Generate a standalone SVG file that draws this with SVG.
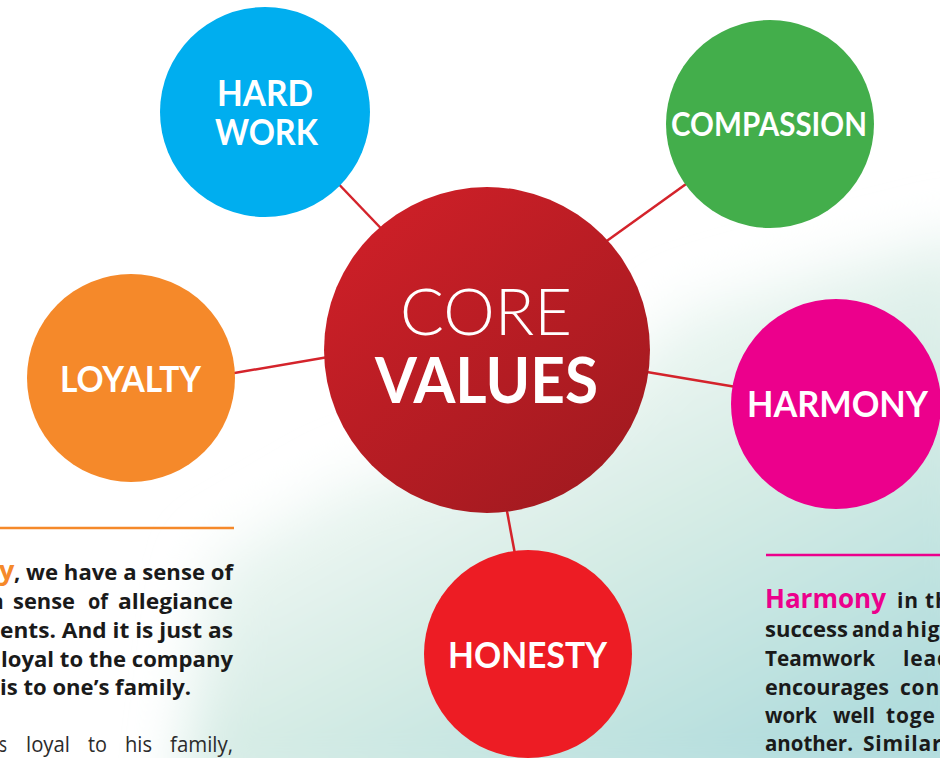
<svg xmlns="http://www.w3.org/2000/svg" width="940" height="758" viewBox="0 0 940 758">
<style>
.lbl{font-family:"Lato","Open Sans","Liberation Sans",sans-serif;font-weight:700;fill:#fff;text-anchor:middle}
.body{font-family:"Open Sans","Liberation Sans",sans-serif;font-weight:700;font-size:21px;fill:#1a1a1a}
.reg{font-family:"Open Sans","Liberation Sans",sans-serif;font-weight:400;font-size:21px;fill:#2b2b2b}
.cut{letter-spacing:0.8px}
.conn{stroke:#D4232B;stroke-width:2.5;fill:none}
</style>
<defs>
<linearGradient id="wash" gradientUnits="userSpaceOnUse" x1="560" y1="260" x2="820" y2="758">
<stop offset="0" stop-color="#fbfdfb"/>
<stop offset="0.5" stop-color="#d6ece5"/>
<stop offset="1" stop-color="#b0dcdd"/>
</linearGradient>
<linearGradient id="core" x1="0.2" y1="0.1" x2="0.85" y2="0.9">
<stop offset="0" stop-color="#CB1F27"/>
<stop offset="1" stop-color="#A31A20"/>
</linearGradient>
<filter id="soft" x="-20%" y="-20%" width="140%" height="140%"><feGaussianBlur stdDeviation="28"/></filter>
</defs>
<rect width="940" height="758" fill="#ffffff"/>
<path d="M 980 230 L 820 270 L 680 310 L 570 420 L 350 480 L 210 560 L 180 800 L 1000 800 Z" fill="url(#wash)" filter="url(#soft)"/>

<g id="connectors">
<line class="conn" x1="330" y1="175" x2="395" y2="243"/>
<line class="conn" x1="590" y1="253" x2="700" y2="174"/>
<line class="conn" x1="220" y1="375.5" x2="340" y2="355"/>
<line class="conn" x1="635" y1="370" x2="760" y2="391"/>
<line class="conn" x1="504" y1="495" x2="517" y2="565"/>
</g>

<g id="core-values">
<circle cx="487" cy="350" r="163" fill="url(#core)"/>
<text x="486" y="335" class="lbl" style="font-weight:300;font-size:65px" textLength="172" lengthAdjust="spacingAndGlyphs">CORE</text>
<text x="486.5" y="403" class="lbl" style="font-size:64px" textLength="223" lengthAdjust="spacingAndGlyphs">VALUES</text>
</g>

<g id="hard-work">
<circle cx="265" cy="112" r="105" fill="#00AEEF"/>
<text x="265" y="106" class="lbl" style="font-size:36px" textLength="96" lengthAdjust="spacingAndGlyphs">HARD</text>
<text x="266.5" y="145" class="lbl" style="font-size:36px" textLength="103" lengthAdjust="spacingAndGlyphs">WORK</text>
</g>

<g id="compassion">
<circle cx="770" cy="124" r="104" fill="#43AE4B"/>
<text x="769" y="136" class="lbl" style="font-size:32px" textLength="196" lengthAdjust="spacingAndGlyphs">COMPASSION</text>
</g>

<g id="loyalty">
<circle cx="131" cy="378" r="104" fill="#F5892A"/>
<text x="130.5" y="392" class="lbl" style="font-size:36px" textLength="141" lengthAdjust="spacingAndGlyphs">LOYALTY</text>
</g>

<g id="harmony">
<circle cx="836" cy="404" r="105" fill="#EC008C"/>
<text x="837.5" y="417" class="lbl" style="font-size:37px" textLength="181" lengthAdjust="spacingAndGlyphs">HARMONY</text>
</g>

<g id="honesty">
<circle cx="528" cy="654" r="104" fill="#ED1C24"/>
<text x="527.5" y="668" class="lbl" style="font-size:37px" textLength="159" lengthAdjust="spacingAndGlyphs">HONESTY</text>
</g>

<g id="loyalty-text">
<line x1="0" y1="528" x2="234" y2="528" stroke="#F5892A" stroke-width="2.5"/>
<text x="-1" y="580" class="body" style="fill:#F5892A;font-size:27px">y</text>
<text x="14" y="580" class="body" textLength="219" lengthAdjust="spacingAndGlyphs">, we have a sense of</text>
<text y="609" class="body"><tspan x="-9">a</tspan><tspan x="13" textLength="62" lengthAdjust="spacingAndGlyphs">sense</tspan><tspan x="88" textLength="20" lengthAdjust="spacingAndGlyphs">of</tspan><tspan x="118" textLength="115" lengthAdjust="spacingAndGlyphs">allegiance</tspan></text>
<text x="0" y="638" class="body" textLength="233" lengthAdjust="spacingAndGlyphs">ents. And it is just as</text>
<text x="1" y="667" class="body" textLength="232" lengthAdjust="spacingAndGlyphs">loyal to the company</text>
<text x="0" y="695" class="body" textLength="191" lengthAdjust="spacingAndGlyphs">is to one’s family.</text>
<text y="752" class="reg"><tspan x="-1" textLength="8" lengthAdjust="spacingAndGlyphs">s</tspan><tspan x="26" textLength="44" lengthAdjust="spacingAndGlyphs">loyal</tspan><tspan x="88" textLength="19" lengthAdjust="spacingAndGlyphs">to</tspan><tspan x="125" textLength="27" lengthAdjust="spacingAndGlyphs">his</tspan><tspan x="170" textLength="63" lengthAdjust="spacingAndGlyphs">family,</tspan></text>
</g>

<g id="harmony-text">
<line x1="766" y1="555" x2="940" y2="555" stroke="#EC008C" stroke-width="2.5"/>
<text x="765" y="608" class="body" style="fill:#EC008C;font-size:27px" textLength="121" lengthAdjust="spacingAndGlyphs">Harmony</text>
<text x="897" y="608" class="body cut">in th</text>
<text y="637" class="body"><tspan x="765" textLength="83" lengthAdjust="spacingAndGlyphs">success</tspan><tspan x="852" textLength="38" lengthAdjust="spacingAndGlyphs">and</tspan><tspan x="892" textLength="11" lengthAdjust="spacingAndGlyphs">a</tspan><tspan x="906" class="cut">hig</tspan></text>
<text y="666" class="body"><tspan x="765" textLength="110" lengthAdjust="spacingAndGlyphs">Teamwork</tspan><tspan x="903" class="cut">lead</tspan></text>
<text y="695" class="body"><tspan x="765" textLength="124" lengthAdjust="spacingAndGlyphs">encourages</tspan><tspan x="900" class="cut">con</tspan></text>
<text y="723" class="body"><tspan x="765" textLength="52" lengthAdjust="spacingAndGlyphs">work</tspan><tspan x="833" textLength="42" lengthAdjust="spacingAndGlyphs">well</tspan><tspan x="886" class="cut">toge</tspan></text>
<text y="751" class="body"><tspan x="765" textLength="88" lengthAdjust="spacingAndGlyphs">another.</tspan><tspan x="863" class="cut">Similar</tspan></text>
</g>
</svg>
